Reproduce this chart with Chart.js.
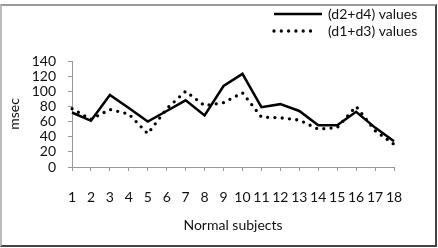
<!DOCTYPE html>
<html>
<head>
<meta charset="utf-8">
<script src="https://cdn.jsdelivr.net/npm/chart.js@4/dist/chart.umd.min.js"></script>
<style>
  body { margin: 0; background: #fff; }
  #wrap { position: relative; width: 438px; height: 248px; }
  #frame {
    position: absolute; left: 0; top: 4px; width: 433px; height: 239px;
    border: 2px solid #444; border-top-color: #999; border-left-color: #bbb;
    pointer-events: none;
  }
</style>
</head>
<body>
<div id="wrap">
  <canvas id="chart" width="438" height="248"></canvas>
  <div id="frame"></div>
</div>
<script>
const subjects = ["1", "2", "3", "4", "5", "6", "7", "8", "9", "10", "11", "12", "13", "14", "15", "16", "17", "18"];
const d2d4 = [72, 61, 95, 78, 60, 74, 88, 68, 107, 123, 79, 83, 74, 55, 55, 73, 52, 34];
const d1d3 = [77, 63, 76, 70, 44, 77, 100, 81, 85, 98, 66, 65, 62, 50, 52, 80, 48, 30];
const seriesNames = ["(d2+d4) values", "(d1+d3) values"];

Chart.defaults.font.family = "Lato";
Chart.defaults.font.size = 14;
Chart.defaults.color = "#111";

// legend sits above the plot, stacked, so draw it by hand
const cornerLegend = {
  id: "cornerLegend",
  afterDraw(chart) {
    const ctx = chart.ctx;
    const rows = [14, 31];
    chart.data.datasets.forEach((ds, i) => {
      const y = rows[i];
      ctx.save();
      ctx.strokeStyle = ds.borderColor;
      ctx.lineWidth = ds.borderWidth;
      ctx.lineCap = ds.borderCapStyle || "butt";
      ctx.setLineDash(ds.borderDash || []);
      ctx.beginPath();
      ctx.moveTo(274, y);
      ctx.lineTo(ds.borderDash ? 311 : 322, y);
      ctx.stroke();
      ctx.setLineDash([]);
      ctx.fillStyle = "#111";
      ctx.font = "14px Lato";
      ctx.textBaseline = "middle";
      ctx.fillText(ds.label, 328, y);
      ctx.restore();
    });
  },
};

new Chart(document.getElementById("chart"), {
  type: "line",
  data: {
    labels: subjects,
    datasets: [
      {
        label: seriesNames[0],
        data: d2d4,
        borderColor: "#000",
        borderWidth: 2.5,
        pointRadius: 0,
        tension: 0,
      },
      {
        label: seriesNames[1],
        data: d1d3,
        borderColor: "#000",
        borderWidth: 3.3,
        borderCapStyle: "round",
        borderDash: [0, 7.3],
        pointRadius: 0,
        tension: 0,
      },
    ],
  },
  options: {
    responsive: false,
    animation: false,
    layout: { padding: { top: 61, right: 44, left: 0, bottom: 0 } },
    plugins: { legend: { display: false }, tooltip: { enabled: false } },
    scales: {
      x: {
        offset: false,
        afterFit: (s) => { s.height = 81; },
        grid: { drawOnChartArea: false, tickLength: 4, color: "#999" },
        border: { color: "#999" },
        ticks: { padding: 18, maxRotation: 0, autoSkip: false },
        title: { display: true, text: "Normal subjects", padding: { top: 0, bottom: 14 } },
      },
      y: {
        min: 0,
        max: 140,
        afterFit: (s) => { s.width = 72; },
        grid: { drawOnChartArea: false, tickLength: 4, color: "#999" },
        border: { color: "#999" },
        ticks: { stepSize: 20, padding: 12, autoSkip: false },
        title: { display: true, text: "msec", padding: { top: 6, bottom: 0 } },
      },
    },
  },
  plugins: [cornerLegend],
});
</script>
</body>
</html>
